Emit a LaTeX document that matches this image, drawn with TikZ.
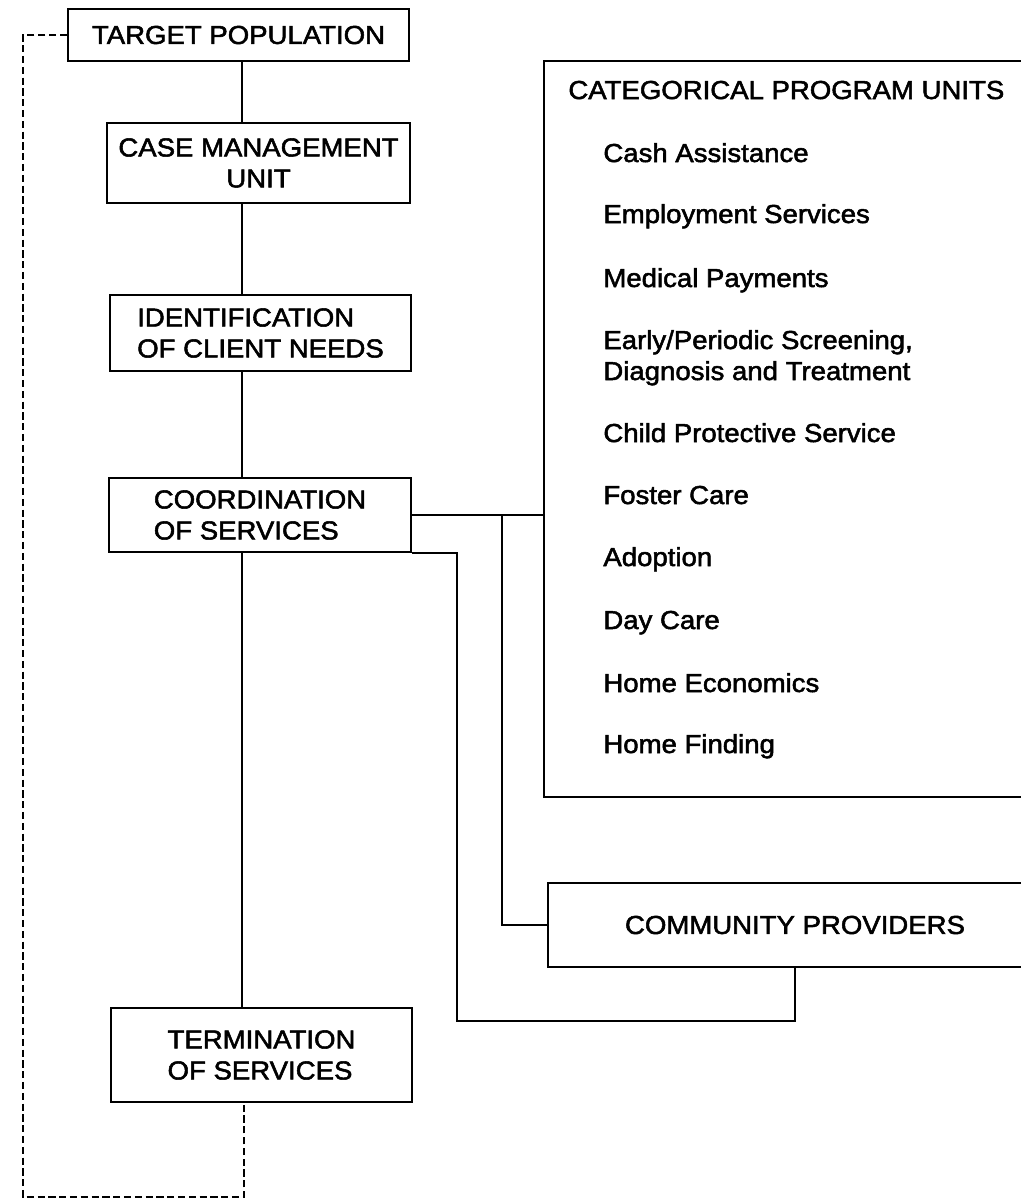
\documentclass[tikz,border=0pt]{standalone}
\usepackage{fontspec}
\setmainfont{Liberation Sans}[FakeStretch=1.06, FakeBold=2]

\begin{document}
\begin{tikzpicture}[x=0.5pt, y=-0.5pt,
    font=\fontsize{13}{15.5}\selectfont,
    unitbox/.style={draw, line width=1.15pt, inner sep=0pt, align=left},
    conn/.style={line width=0.8pt},
    backloop/.style={line width=1.3pt, dash pattern=on 3.6pt off 1.8pt},
    unititem/.style={anchor=base west, inner sep=0pt, align=left}]
    \clip (0,0) rectangle (1021,1200);
    \fill[white] (0,0) rectangle (1021,1200);

    \draw
    (238.5, 35) node[unitbox, minimum width=170.5pt, minimum height=26pt](tp){TARGET POPULATION}
    (258.5, 163) node[unitbox, align=center, minimum width=151.5pt, minimum height=40pt](cm){CASE MANAGEMENT\\UNIT}
    (260.5, 333) node[unitbox, minimum width=150.5pt, minimum height=38pt](id){IDENTIFICATION\\OF CLIENT NEEDS}
    (260, 515) node[unitbox, minimum width=151pt, minimum height=37pt](cs){COORDINATION\\OF SERVICES}
    (261.5, 1055) node[unitbox, minimum width=150.5pt, minimum height=47pt](ts){TERMINATION\\OF SERVICES}
    (793, 429) node[unitbox, minimum width=249pt, minimum height=368pt](cpu){}
    (795, 925) node[unitbox, minimum width=247pt, minimum height=42pt](cp){COMMUNITY PROVIDERS};

    % program units listed inside the big box (y = last baseline)
    \node[unititem] (cpuhead) at (568, 99) {CATEGORICAL PROGRAM UNITS};
    \foreach \y/\t [count=\k] in {162/{Cash Assistance}, 223/{Employment Services},
        287/{Medical Payments}, 380/{Early/Periodic Screening,\\Diagnosis and Treatment},
        442/{Child Protective Service}, 504/{Foster Care}, 566/{Adoption},
        629/{Day Care}, 692/{Home Economics}, 753/{Home Finding}}
        \node[unititem] (u\k) at (603, \y) {\t};

    \coordinate (spine) at (242, 0);
    \coordinate (fork) at (502, 515);
    \coordinate (back) at (457, 1021);
    \coordinate (loopL) at (23, 1197);
    \coordinate (loopR) at (244, 1197);

    \draw[conn] (tp.south -| spine) -- (cm.north -| spine);
    \draw[conn] (cm.south -| spine) -- (id.north -| spine);
    \draw[conn] (id.south -| spine) -- (cs.north -| spine);
    \draw[conn] (cs.south -| spine) -- (ts.north -| spine);
    \draw[conn] (cs.east) -- (cs.east -| cpu.west);
    \draw[conn] (fork) |- (cp.west);
    \draw[conn] (cs.south east) -| (back) -| (cp.south);

    % feedback loop back to the start
    \draw[backloop] (tp.west) -| (loopL) -- (loopR) -- (loopR |- ts.south);

\end{tikzpicture}
\end{document}
